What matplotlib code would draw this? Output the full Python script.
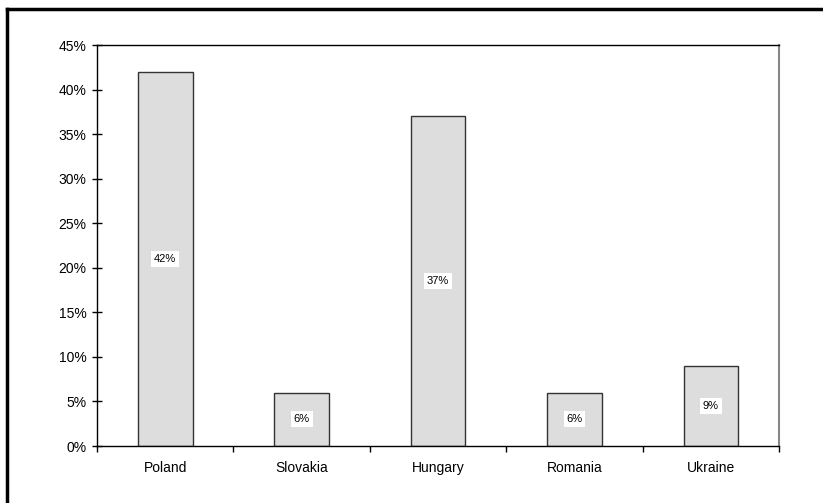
import matplotlib
matplotlib.use("Agg")
import matplotlib.pyplot as plt
from matplotlib.lines import Line2D
from matplotlib.ticker import FixedLocator, PercentFormatter

countries = ["Poland", "Slovakia", "Hungary", "Romania", "Ukraine"]
shares = [42, 6, 37, 6, 9]
y_ticks = [0, 5, 10, 15, 20, 25, 30, 35, 40, 45]

plt.rcParams["font.family"] = ["Liberation Sans", "DejaVu Sans"]

fig = plt.figure(figsize=(8.23, 5.03), dpi=100)
ax = fig.add_axes([0.118, 0.1133, 0.8285, 0.7972])

x = list(range(len(countries)))
bars = ax.bar(x, shares, width=0.4, color="#dddddd", edgecolor="#333333", linewidth=1.0)

for xi, v in zip(x, shares):
    ax.text(xi, v / 2, f"{v}%", ha="center", va="center", fontsize=8,
            bbox=dict(boxstyle="square,pad=0.25", facecolor="white", edgecolor="none"))

ax.set_xlim(-0.5, len(countries) - 0.5)
ax.set_ylim(0, 45)
ax.set_yticks(y_ticks)
ax.yaxis.set_major_formatter(PercentFormatter(decimals=0))
ax.set_xticks(x)
ax.set_xticklabels(countries)
ax.xaxis.set_minor_locator(FixedLocator([i - 0.5 for i in range(len(countries) + 1)]))

ax.tick_params(axis="x", which="major", length=0, pad=11, labelsize=10)
ax.tick_params(axis="x", which="minor", direction="out", length=4, width=1)
ax.tick_params(axis="y", direction="inout", length=7, width=1, pad=4, labelsize=10)

for s in ["left", "bottom", "top"]:
    ax.spines[s].set_color("black")
    ax.spines[s].set_linewidth(1.0)
ax.spines["right"].set_color("#888888")
ax.spines["right"].set_linewidth(1.5)

# outer chart border (cropped at right and bottom)
fig.add_artist(Line2D([7 / 823, 7 / 823], [0, 1 - 9 / 503], color="black", linewidth=2.5,
                      transform=fig.transFigure))
fig.add_artist(Line2D([7 / 823, 1], [1 - 9 / 503, 1 - 9 / 503], color="black", linewidth=2.5,
                      transform=fig.transFigure))

fig.savefig("out.png", dpi=100)
